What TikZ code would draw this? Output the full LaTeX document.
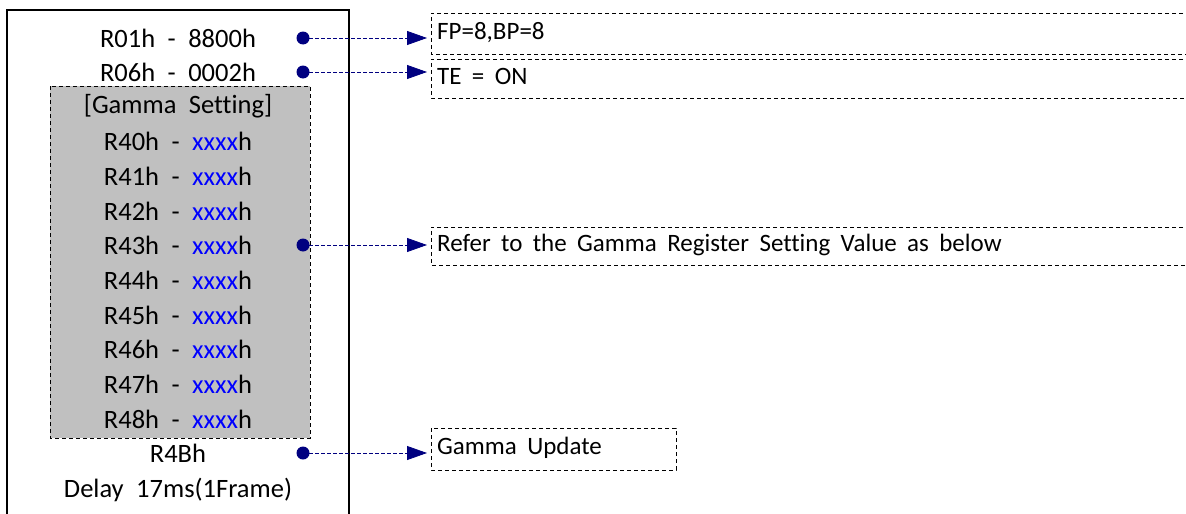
\documentclass[tikz,border=0pt]{standalone}
\usepackage{fontspec}
\setmainfont[Ligatures=NoCommon]{Carlito}
\usetikzlibrary{arrows.meta}
\definecolor{navyd}{RGB}{0,0,128}
\definecolor{grayfill}{RGB}{192,192,192}
\definecolor{xblue}{RGB}{0,0,255}
\newcommand{\gp}{\hspace{12.5pt}}
\newcommand{\rg}{\hspace{10.4pt}}
\tikzset{
  row/.style={font=\fontsize{26.5}{30}\selectfont, inner sep=0pt, anchor=center},
  rtext/.style={font=\fontsize{25}{30}\selectfont, inner sep=0pt, anchor=west},
  dotnode/.style={circle, fill=navyd, inner sep=0pt, minimum size=13pt},
  conn/.style={navyd, line width=0.8pt, dash pattern=on 4pt off 2pt, -{Triangle[length=20pt,width=14pt]}},
  dbox/.style={draw=black, line width=0.8pt, dash pattern=on 4pt off 3pt},
}
\begin{document}
\begin{tikzpicture}[x=1pt,y=-1pt]
\useasboundingbox (0,0) rectangle (1186,514);
% outer frame
\draw[line width=1.5pt] (7,520) -- (7,10) -- (349,10) -- (349,520);
% gamma box
\draw[dbox, fill=grayfill] (50,86) rectangle (310,438);
% rows
\node[row] (r01) at (178,38) {R01h\gp-\gp8800h};
\node[row] (r06) at (178,72) {R06h\gp-\gp0002h};
\node[row] (gs) at (178,106) {[Gamma\gp Setting]};
\node[row] (r40) at (178,141) {R40h\gp-\gp\textcolor{xblue}{xxxx}h};
\node[row] (r41) at (178,176) {R41h\gp-\gp\textcolor{xblue}{xxxx}h};
\node[row] (r42) at (178,211) {R42h\gp-\gp\textcolor{xblue}{xxxx}h};
\node[row] (r43) at (178,245) {R43h\gp-\gp\textcolor{xblue}{xxxx}h};
\node[row] (r44) at (178,280) {R44h\gp-\gp\textcolor{xblue}{xxxx}h};
\node[row] (r45) at (178,315) {R45h\gp-\gp\textcolor{xblue}{xxxx}h};
\node[row] (r46) at (178,349) {R46h\gp-\gp\textcolor{xblue}{xxxx}h};
\node[row] (r47) at (178,384) {R47h\gp-\gp\textcolor{xblue}{xxxx}h};
\node[row] (r48) at (178,419) {R48h\gp-\gp\textcolor{xblue}{xxxx}h};
\node[row] (r4b) at (178,453) {R4Bh};
\node[row] (dly) at (178,490) {Delay\gp 17ms(1Frame)};
% dots
\node[dotnode] (d1) at (303,38) {};
\node[dotnode] (d2) at (303,72) {};
\node[dotnode] (d3) at (303,245) {};
\node[dotnode] (d4) at (303,453) {};
% right boxes (open on right, run past edge)
\draw[dbox] (1190,13) -- (431,13) -- (431,54) -- (1190,54);
\draw[dbox] (1190,59) -- (431,59) -- (431,98) -- (1190,98);
\draw[dbox] (1190,227) -- (431,227) -- (431,265) -- (1190,265);
\draw[dbox] (431,428) rectangle (676,470);
\coordinate (b1) at (431,33);
\coordinate (b2) at (431,78);
\coordinate (b3) at (431,246);
\coordinate (b4) at (431,449);
\node[rtext] (t1) at (437,33) {FP=8,BP=8};
\node[rtext] (t2) at (437,76) {TE\rg=\rg ON};
\node[rtext] (t3) at (437,245) {Refer\rg to\rg the\rg Gamma\rg Register\rg Setting\rg Value\rg as\rg below};
\node[rtext] (t4) at (437,448) {Gamma\rg Update};
% connectors
\draw[conn, shorten >=4pt] (d1.center) -- (d1.center -| b1);
\draw[conn, shorten >=4pt] (d2.center) -- (d2.center -| b2);
\draw[conn, shorten >=4pt] (d3.center) -- (d3.center -| b3);
\draw[conn, shorten >=4pt] (d4.center) -- (d4.center -| b4);
\end{tikzpicture}
\end{document}
